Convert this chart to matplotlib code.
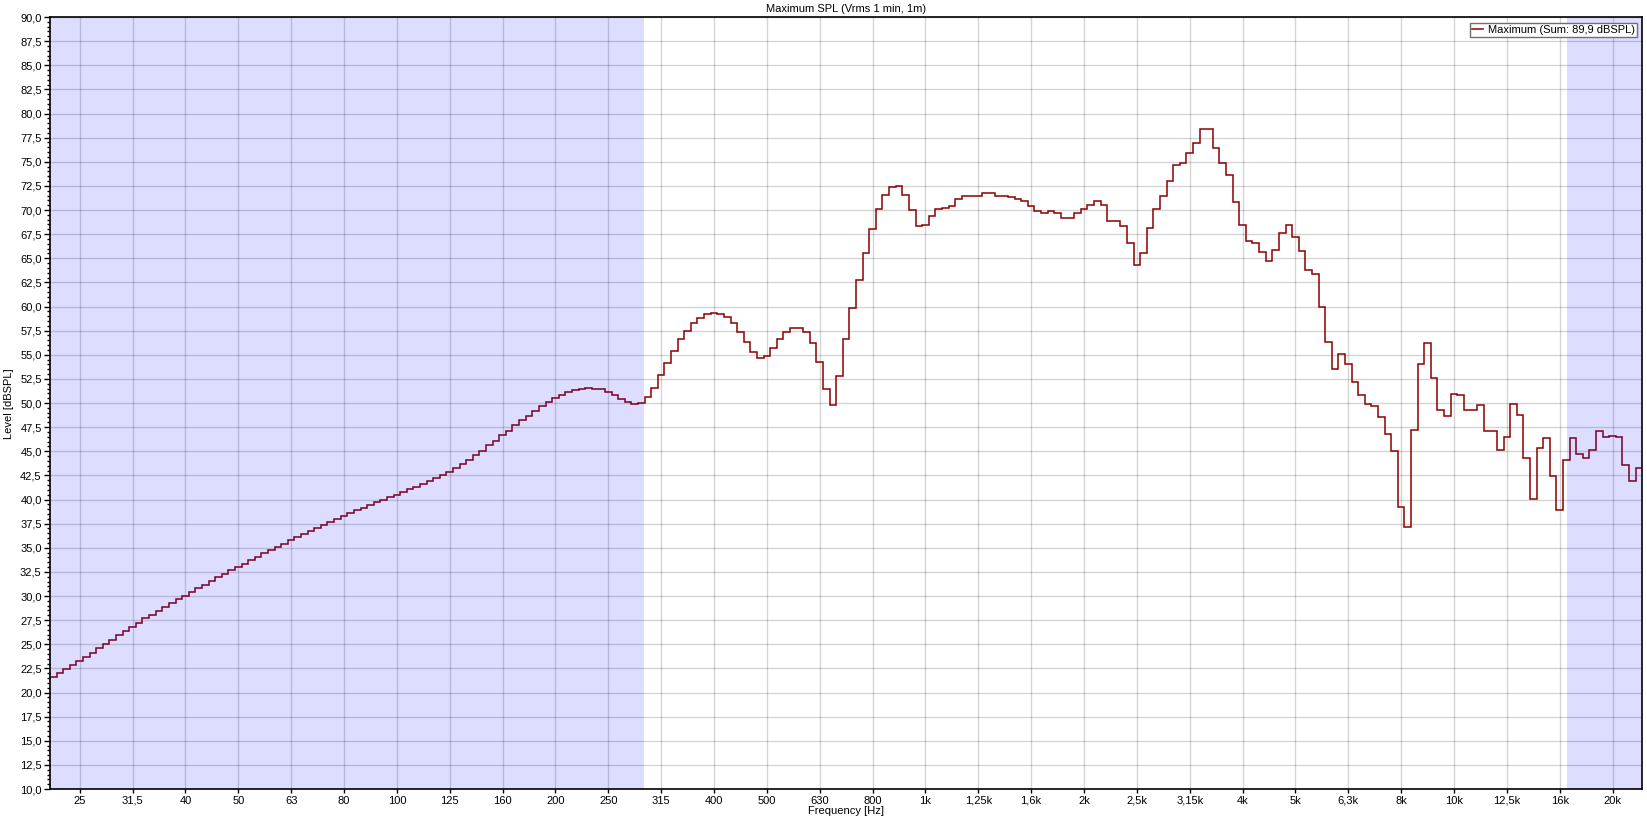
import numpy as np
import matplotlib
matplotlib.use("Agg")
import matplotlib.pyplot as plt
from matplotlib.ticker import FixedLocator, MultipleLocator, FuncFormatter

plt.rcParams['font.family'] = ['Liberation Sans', 'DejaVu Sans']

# ---- data -------------------------------------------------------------
# 1/24-octave band index (centre = 1000 Hz * 2**(k/24))
band_first = -132
band_last = 108

levels_db = [
    # k = -132 .. -91
    21.6, 22.0, 22.45, 22.9, 23.3, 23.72, 24.13, 24.58, 25.07, 25.48,
    25.93, 26.38, 26.83, 27.25, 27.67, 28.08, 28.46, 28.88, 29.26, 29.65,
    30.03, 30.4, 30.8, 31.16, 31.54, 31.92, 32.27, 32.65, 33.0, 33.34,
    33.72, 34.07, 34.41, 34.76, 35.1, 35.42, 35.76, 36.1, 36.42, 36.73,
    37.08, 37.39,
    # k = -90 .. -46
    37.72, 38.02, 38.3, 38.6, 38.88, 39.16, 39.47, 39.71, 39.95, 40.23,
    40.5, 40.78, 41.06, 41.3, 41.61, 41.89, 42.2, 42.51, 42.89, 43.27,
    43.69, 44.1, 44.58, 45.07, 45.62, 46.1, 46.66, 47.14, 47.7, 48.21,
    48.7, 49.22, 49.7, 50.12, 50.53, 50.84, 51.15, 51.36, 51.5, 51.53,
    51.5, 51.43, 51.19, 50.84, 50.46,
    # k = -45 .. -1
    50.07, 49.86, 50.0, 50.6, 51.6, 52.9, 54.1, 55.4, 56.6, 57.5,
    58.3, 58.8, 59.2, 59.3, 59.2, 58.9, 58.3, 57.4, 56.3, 55.3,
    54.7, 54.9, 55.7, 56.6, 57.4, 57.8, 57.8, 57.4, 56.2, 54.25,
    51.4, 49.8, 52.8, 56.6, 59.8, 62.7, 65.5, 68.0, 70.1, 71.6,
    72.4, 72.45, 71.6, 70.0, 68.3,
    # k = 0 .. 49
    68.4, 69.4, 70.1, 70.2, 70.4, 71.1, 71.4, 71.43, 71.5, 71.8,
    71.8, 71.5, 71.4, 71.3, 71.1, 70.9, 70.4, 69.9, 69.7, 69.85,
    69.7, 69.2, 69.2, 69.7, 70.15, 70.5, 70.95, 70.5, 68.9, 68.85,
    68.3, 66.6, 64.3, 65.5, 68.1, 70.1, 71.5, 73.0, 74.65, 74.9,
    75.95, 76.9, 78.4, 78.4, 76.4, 74.9, 73.6, 70.8, 68.4, 66.8,
    # k = 50 .. 108
    66.6, 65.6, 64.7, 65.9, 67.6, 68.4, 67.2, 65.8, 63.8, 63.4,
    60.0, 56.3, 53.5, 55.05, 54.0, 52.15, 50.8, 49.9, 49.7, 48.5,
    46.8, 45.0, 39.25, 37.2, 47.25, 54.0, 56.2, 52.6, 49.3, 48.7,
    50.9, 50.8, 49.25, 49.25, 49.75, 47.05, 47.15, 45.1, 46.5, 49.9,
    48.8, 44.25, 40.1, 45.35, 46.35, 42.45, 38.9, 44.1, 46.4, 44.75,
    44.3, 45.1, 47.1, 46.5, 46.55, 46.5, 43.6, 41.9, 43.3,
]

tick_labels = ['25', '31,5', '40', '50', '63', '80', '100', '125', '160', '200',
               '250', '315', '400', '500', '630', '800', '1k', '1,25k', '1,6k', '2k',
               '2,5k', '3,15k', '4k', '5k', '6,3k', '8k', '10k', '12,5k', '16k', '20k']
tick_third_octave_first = -16   # 25 Hz = 1000 * 2**(-16/3)

shade_low = (10.0, 292.5)
shade_high = (16500.0, 30000.0)

title = 'Maximum SPL (Vrms 1 min, 1m)'
legend_label = 'Maximum (Sum: 89,9 dBSPL)'

# ---- figure -----------------------------------------------------------
W, H = 1647, 821
fig = plt.figure(figsize=(W / 100, H / 100), dpi=100)
ax_l, ax_r, ax_t, ax_b = 50, 1642.3, 17, 789
ax = fig.add_axes([ax_l / W, 1 - ax_b / H, (ax_r - ax_l) / W, (ax_b - ax_t) / H])

k = np.arange(band_first, band_last + 1)
edges = 1000.0 * 2.0 ** ((np.append(k, k[-1] + 1) - 0.5) / 24.0)
vals = np.array(levels_db)

ax.set_xscale('log')
ax.set_xlim(edges[0], edges[-1])
ax.set_ylim(10, 90)

ax.stairs(vals, edges, baseline=None, color='#8B0000', linewidth=1.1,
          label=legend_label, zorder=3)

# shaded (out-of-range) regions drawn on top, semi-transparent blue
for lo, hi in (shade_low, shade_high):
    ax.axvspan(max(lo, edges[0]), min(hi, edges[-1]), color=(0, 0, 1.0),
               alpha=0.135, lw=0, zorder=4)

# ticks
tick_pos = [1000.0 * 2.0 ** ((tick_third_octave_first + i) / 3.0) for i in range(len(tick_labels))]
ax.set_xticks(tick_pos)
ax.set_xticklabels(tick_labels)
ax.xaxis.set_minor_locator(FixedLocator([]))

ax.yaxis.set_major_locator(MultipleLocator(2.5))
ax.yaxis.set_minor_locator(MultipleLocator(0.5))
ax.yaxis.set_major_formatter(FuncFormatter(lambda v, p: f'{v:.1f}'.replace('.', ',')))

ax.tick_params(axis='both', which='major', labelsize=8, color='black', width=1)
ax.tick_params(axis='y', which='major', length=4, pad=2)
ax.tick_params(axis='y', which='minor', length=2.2, width=1)
ax.tick_params(axis='x', which='major', length=3, pad=2)

ax.grid(True, which='major', color='black', alpha=0.17, linewidth=1)
ax.set_axisbelow(True)
for s in ax.spines.values():
    s.set_color('black')
    s.set_linewidth(1.2)
    s.set_zorder(6)

fig.text(846 / W, 1 - 9.5 / H, title, ha='center', va='center', fontsize=8)
ax.set_xlabel('Frequency [Hz]', fontsize=8, labelpad=0)
fig.text(9.5 / W, 1 - 404 / H, 'Level [dBSPL]', rotation=90, ha='center', va='center', fontsize=8)

leg = ax.legend(loc='upper right', bbox_to_anchor=(1 - 5 / (ax_r - ax_l), 1 - 6 / (ax_b - ax_t)),
                borderaxespad=0, fontsize=8, frameon=True, fancybox=False,
                handlelength=1.0, handletextpad=0.45, borderpad=0.2)
leg.get_frame().set_edgecolor('#707070')
leg.get_frame().set_linewidth(1)
leg.get_frame().set_alpha(1)
leg.set_zorder(10)

fig.savefig('out.png', dpi=100)
